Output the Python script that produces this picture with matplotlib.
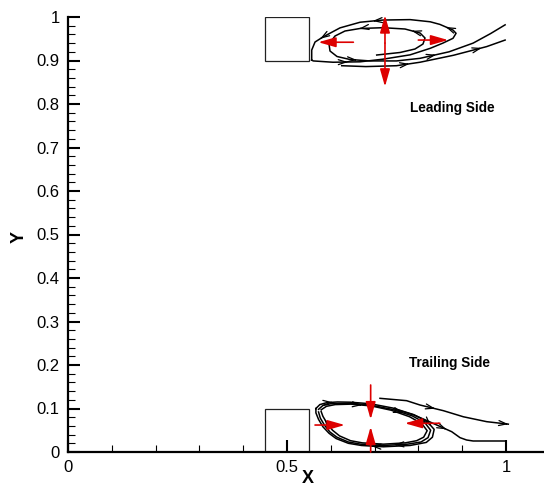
import matplotlib
matplotlib.use("Agg")
import matplotlib.pyplot as plt
from matplotlib.patches import Rectangle

plt.rcParams["font.family"] = ["Liberation Sans", "DejaVu Sans"]

RED = "#dd0000"

# ---------------------------------------------------------------------------
# Data
# ---------------------------------------------------------------------------
x_major = [0, 0.5, 1]
x_labels = ["0", "0.5", "1"]
y_major = [round(0.1 * i, 1) for i in range(11)]
y_labels = ["0", "0.1", "0.2", "0.3", "0.4", "0.5", "0.6", "0.7", "0.8", "0.9", "1"]

# obstacles (x0, y0, width, height)
blocks = [(0.45, 0.9, 0.10, 0.10), (0.45, 0.0, 0.10, 0.10)]

# leading side streamlines (flow order)
lead_outer = [(0.556, 0.901), (0.560, 0.899), (0.605, 0.896), (0.667, 0.897),
              (0.719, 0.903), (0.781, 0.913), (0.827, 0.928), (0.856, 0.940),
              (0.879, 0.951), (0.886, 0.9625), (0.879, 0.970), (0.849, 0.983),
              (0.827, 0.989), (0.781, 0.994), (0.719, 0.993), (0.667, 0.988),
              (0.621, 0.975), (0.582, 0.954), (0.564, 0.9425), (0.5564, 0.924),
              (0.5564, 0.901)]
lead_inner = [(0.7048, 0.9126), (0.758, 0.9184), (0.7922, 0.9264), (0.8105, 0.9379),
              (0.8151, 0.9517), (0.8037, 0.9632), (0.7694, 0.9724), (0.7192, 0.9754),
              (0.6667, 0.9736), (0.6324, 0.9678), (0.6096, 0.9563), (0.5959, 0.9379),
              (0.5982, 0.9218), (0.6142, 0.9092), (0.6438, 0.9023), (0.6895, 0.899),
              (0.75, 0.899), (0.8037, 0.905), (0.87, 0.92), (0.925, 0.94),
              (0.965, 0.962), (0.998, 0.982)]
lead_low = [(0.625, 0.888), (0.68, 0.886), (0.75, 0.888), (0.8037, 0.896),
            (0.88, 0.912), (0.956, 0.932), (0.998, 0.947)]

# trailing side streamlines (flow order, clockwise bubble)
trail_loop1 = [(0.566, 0.100), (0.575, 0.109), (0.591, 0.1135), (0.615, 0.115),
               (0.644, 0.1145), (0.690, 0.111), (0.742, 0.101), (0.789, 0.086),
               (0.820, 0.070), (0.836, 0.052), (0.832, 0.034), (0.818, 0.022),
               (0.781, 0.015), (0.720, 0.012), (0.670, 0.015), (0.640, 0.020),
               (0.612, 0.031), (0.596, 0.043), (0.582, 0.058), (0.572, 0.075),
               (0.566, 0.090), (0.566, 0.100)]
trail_loop2 = [(0.572, 0.098), (0.582, 0.107), (0.600, 0.111), (0.644, 0.112),
               (0.690, 0.108), (0.740, 0.098), (0.786, 0.083), (0.815, 0.067),
               (0.828, 0.050), (0.822, 0.033), (0.806, 0.023), (0.775, 0.018),
               (0.720, 0.015), (0.668, 0.018), (0.640, 0.023), (0.614, 0.034),
               (0.598, 0.046), (0.586, 0.061), (0.576, 0.078), (0.572, 0.092)]
trail_loop3 = [(0.578, 0.097), (0.590, 0.105), (0.610, 0.109), (0.646, 0.110),
               (0.692, 0.106), (0.738, 0.096), (0.780, 0.081), (0.808, 0.065),
               (0.820, 0.049), (0.812, 0.034), (0.796, 0.026), (0.770, 0.021),
               (0.720, 0.018), (0.672, 0.021), (0.645, 0.026), (0.620, 0.037),
               (0.604, 0.050), (0.592, 0.065), (0.582, 0.082), (0.578, 0.093)]
trail_upper = [(0.7123, 0.1234), (0.773, 0.118), (0.8037, 0.108), (0.857, 0.095),
               (0.9026, 0.081), (0.956, 0.0697), (1.0053, 0.064)]
trail_lower = [(0.745, 0.099), (0.790, 0.085), (0.820, 0.072), (0.842, 0.062),
               (0.876, 0.0467), (0.895, 0.033), (0.910, 0.0276), (0.925, 0.0253),
               (1.0, 0.0253)]

# red force arrows: (tail, tip)
lead_red = [((0.7237, 0.94), (0.7237, 1.004)), ((0.7237, 0.94), (0.7237, 0.840)),
            ((0.6515, 0.942), (0.5715, 0.942)), ((0.7998, 0.947), (0.868, 0.947))]
trail_red = [((0.691, 0.154), (0.691, 0.075)), ((0.691, 0.0), (0.691, 0.058)),
             ((0.564, 0.062), (0.632, 0.062)), ((0.849, 0.066), (0.769, 0.066))]

# streamline arrow positions (fractional point index)
marks = [(lead_outer, [2.5, 10.5, 14.4, 17.3]),
         (lead_inner, [5.5, 8.0, 14.3, 17.5]),
         (lead_low, [2.5, 4.8]),
         (trail_loop1, [2.5, 8.5, 13.5]),
         (trail_loop2, [5.5, 11.5]),
         (trail_loop3, [3.5, 17.5]),
         (trail_upper, [2.6, 5.95]),
         (trail_lower, [3.6])]


def arrow_mark(ax, pts, t):
    i = int(t)
    f = t - i
    (x0, y0), (x1, y1) = pts[i], pts[i + 1]
    xm, ym = x0 + f * (x1 - x0), y0 + f * (y1 - y0)
    dx, dy = (x1 - x0) * 0.05, (y1 - y0) * 0.05
    ax.annotate("", xy=(xm + dx, ym + dy), xytext=(xm - dx, ym - dy),
                annotation_clip=False,
                arrowprops=dict(arrowstyle="->,head_length=0.55,head_width=0.18",
                                color="black", lw=0.9, shrinkA=0, shrinkB=0,
                                mutation_scale=10))


fig = plt.figure(figsize=(5.44, 4.88), dpi=100)
ax = fig.add_axes([68 / 544, 36 / 488, 476 / 544, 435 / 488])
ax.set_xlim(0, 476 / 438)
ax.set_ylim(0, 1)

for x0, y0, w, h in blocks:
    ax.add_patch(Rectangle((x0, y0), w, h, fill=False, ec="#222222", lw=0.9))

for line in (lead_outer, lead_inner, lead_low, trail_loop1, trail_loop2,
             trail_loop3, trail_upper, trail_lower):
    xs, ys = zip(*line)
    ax.plot(xs, ys, color="black", lw=1.1, clip_on=False)

for pts, ts in marks:
    for t in ts:
        arrow_mark(ax, pts, t)

for tail, tip in lead_red + trail_red:
    ax.annotate("", xy=tip, xytext=tail, annotation_clip=False,
                arrowprops=dict(arrowstyle="-|>,head_length=1.05,head_width=0.3",
                                color=RED, lw=1.2, shrinkA=0, shrinkB=0,
                                mutation_scale=10))

ax.text(0.877, 0.791, "Leading Side", fontsize=9.8, fontweight="bold",
        ha="center", va="center")
ax.text(0.872, 0.2046, "Trailing Side", fontsize=9.8, fontweight="bold",
        ha="center", va="center")

# axes styling
for s in ("top", "right"):
    ax.spines[s].set_visible(False)
for s in ("left", "bottom"):
    ax.spines[s].set_linewidth(1.6)

ax.set_xticks(x_major)
ax.set_xticklabels(x_labels)
ax.set_xticks([0.1, 0.2, 0.3, 0.4, 0.6, 0.7, 0.8, 0.9], minor=True)
ax.set_yticks(y_major)
ax.set_yticklabels(y_labels)
ax.set_yticks([round(0.02 * i, 2) for i in range(51) if i % 5], minor=True)
ax.tick_params(which="major", direction="in", length=8.5, width=1.5,
               labelsize=12, pad=6)
ax.tick_params(which="minor", direction="in", length=5, width=0.8)

ax.set_xlabel("X", fontsize=13, fontweight="bold")
ax.set_ylabel("Y", fontsize=13, fontweight="bold")
ax.xaxis.set_label_coords((308 - 68) / 476, -0.042)
ax.yaxis.set_label_coords((28 - 68) / 476, 0.494)

fig.savefig("out.png", dpi=100)
